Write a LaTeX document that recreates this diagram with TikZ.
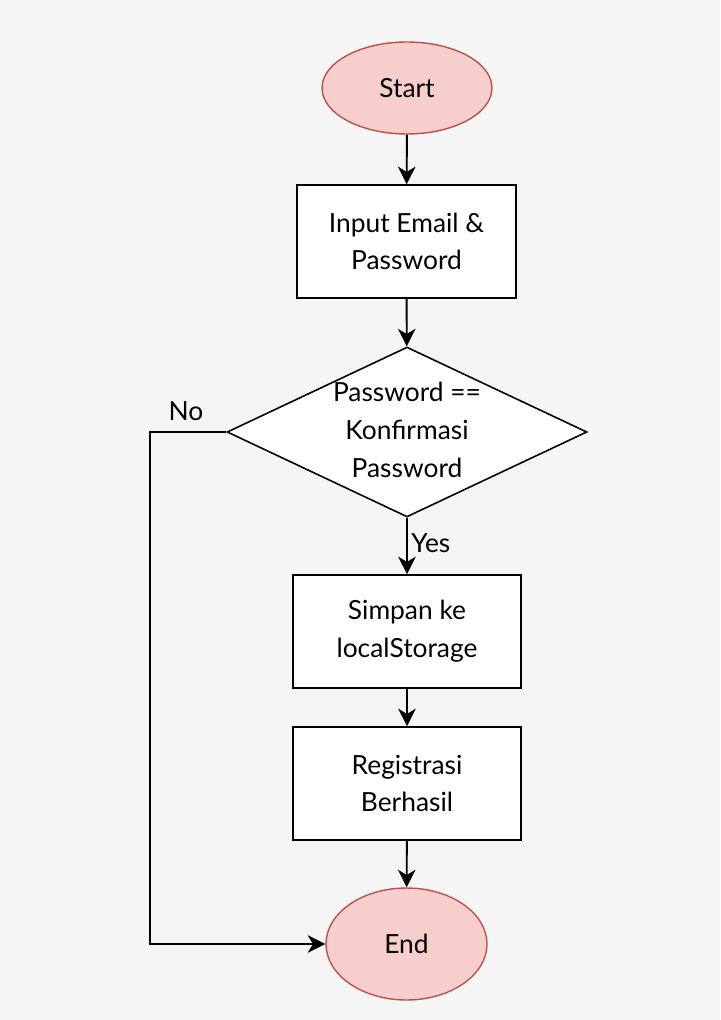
\documentclass[tikz,border=0pt]{standalone}
\usepackage{fontspec}
\setmainfont{Lato}
\usetikzlibrary{shapes.geometric,arrows.meta,positioning}
\definecolor{bgcol}{HTML}{F5F5F5}
\definecolor{termfill}{HTML}{F8CECC}
\definecolor{termline}{HTML}{B85450}

\begin{document}
\begin{tikzpicture}[x=0.02cm, y=-0.02cm,
  every node/.style={font=\fontsize{15}{21.5}\selectfont},
  term/.style={ellipse, draw=termline, fill=termfill, line width=0.8pt, inner sep=0pt},
  proc/.style={rectangle, draw, fill=white, line width=0.9pt, align=center, minimum height=2.26cm},
  dec/.style={diamond, draw, fill=white, line width=0.9pt, minimum width=7.2cm, minimum height=3.4cm, inner sep=0pt},
  flow/.style={line width=1.1pt, -{Stealth[length=10pt,width=10pt,inset=3pt]}}]
  \useasboundingbox (0,0) rectangle (720,1020);
  \fill[bgcol] (0,0) rectangle (720,1020);

  % main column
  \node[term, minimum width=3.4cm, minimum height=1.84cm] (start) at (407,88) {Start};
  \node[proc, minimum width=4.38cm] (input) at (406.5,241.5) {Input Email \&\\Password};
  \node[dec] (check) at (407,432) {};
  \node[align=center] (checktxt) at (407,430) {Password ==\\Konfirmasi\\Password};
  \node[proc, minimum width=4.56cm] (save) at (407,631.5) {Simpan ke\\localStorage};
  \node[proc, minimum width=4.56cm] (done) at (407,783.5) {Registrasi\\Berhasil};
  \node[term, minimum width=3.22cm, minimum height=2.24cm] (end) at (406.5,944) {End};

  % connectors
  \draw[flow] (start) -- (input);
  \draw[flow] (input) -- (check);
  \draw[flow] (check) -- node[right, pos=0.45, inner sep=2pt] (yes) {Yes} (save);
  \draw[flow] (save) -- (done);
  \draw[flow] (done) -- (end);
  \draw[flow] (check.west) -- ++(-76,0) coordinate (bend) |- (end.west);
  \node (no) at (186,411) {No};
\end{tikzpicture}
\end{document}
